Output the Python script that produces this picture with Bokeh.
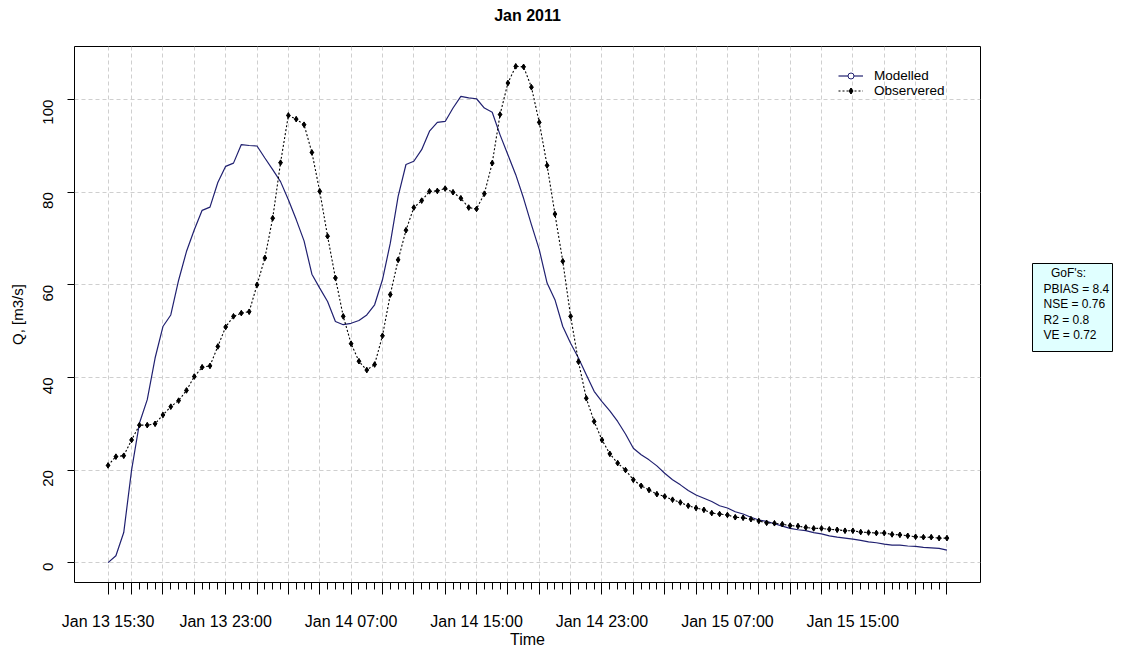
import math
import pandas as pd
from bokeh.plotting import figure
from bokeh.layouts import row
from bokeh.models import (FixedTicker, CustomJSTickFormatter, Range1d, Legend,
                          LegendItem, ColumnDataSource, LinearAxis)
from bokeh.core.properties import value
from bokeh.embed import file_html
from bokeh.resources import INLINE

# ---------------- data ----------------
start_time = "2011-01-13 15:30"
end_time = "2011-01-15 21:00"
times = pd.date_range(start_time, end_time, freq="30min")

modelled = [
    0.0, 1.5, 6.5, 20.0, 30.1, 35.2, 44.2, 51.0, 53.5, 61.0,
    67.2, 71.9, 76.1, 76.8, 82.1, 85.6, 86.3, 90.3, 90.1, 90.0,
    87.4, 84.9, 82.3, 78.4, 74.1, 69.5, 62.3, 59.3, 56.4, 52.1,
    51.4, 51.7, 52.3, 53.5, 55.7, 61.1, 69.0, 79.1, 86.0, 86.7,
    89.2, 93.2, 95.1, 95.3, 98.2, 100.7, 100.4, 100.2, 98.2, 97.3,
    92.4, 88.1, 83.8, 78.7, 73.0, 67.6, 60.4, 56.8, 51.0, 47.4,
    44.2, 40.6, 37.0, 34.8, 32.8, 30.5, 27.8, 24.7, 23.3, 22.2,
    20.9, 19.3, 17.9, 16.8, 15.6, 14.6, 13.9, 13.2, 12.3, 11.8,
    11.0, 10.5, 9.8, 9.2, 8.9, 8.4, 7.9, 7.4, 7.1, 6.9,
    6.5, 6.2, 5.8, 5.5, 5.3, 5.1, 4.8, 4.5, 4.3, 4.0,
    3.8, 3.8, 3.6, 3.5, 3.3, 3.2, 3.1, 2.7,
]
observed = [
    21.0, 22.9, 23.1, 26.5, 29.7, 29.7, 30.0, 31.9, 33.7, 35.0,
    37.2, 40.2, 42.2, 42.5, 46.7, 50.9, 53.2, 53.9, 54.2, 60.0,
    65.8, 74.4, 86.4, 96.6, 95.8, 94.6, 88.6, 80.2, 70.5, 61.5,
    53.2, 47.3, 43.5, 41.6, 42.8, 49.0, 57.9, 65.4, 71.8, 76.7,
    78.2, 80.2, 80.3, 80.8, 80.0, 78.7, 76.7, 76.4, 79.7, 86.3,
    96.8, 103.6, 107.2, 107.1, 102.7, 95.1, 85.8, 75.3, 65.1, 53.2,
    43.4, 35.5, 30.5, 26.5, 23.5, 21.5, 20.0, 17.9, 16.6, 15.7,
    14.8, 14.3, 13.6, 13.0, 12.3, 11.8, 11.4, 10.7, 10.5, 10.3,
    9.8, 9.7, 9.4, 9.0, 8.6, 8.5, 8.3, 8.0, 7.9, 7.6,
    7.4, 7.4, 7.2, 7.1, 6.9, 6.9, 6.6, 6.5, 6.4, 6.4,
    6.1, 6.0, 5.8, 5.6, 5.5, 5.5, 5.3, 5.3,
]
y_ticks = [0, 20, 40, 60, 80, 100]
series_labels = ["Modelled", "Observered"]
gof_title = "GoF's:"
gof_lines = ["PBIAS = 8.4", "NSE = 0.76", "R2 = 0.8", "VE = 0.72"]
title_text = "Jan 2011"

# ---------------- helpers ----------------
def to_ms(ts):
    return [(t - pd.Timestamp("1970-01-01")) // pd.Timedelta("1ms") for t in ts]

major_times = [times[0]] + list(pd.date_range("2011-01-13 17:00", end_time, freq="2h"))
major_ms = to_ms(major_times)
minor_ms = to_ms(times)

t0, t1 = minor_ms[0], minor_ms[-1]
xpad = 0.04 * (t1 - t0)
allv = modelled + observed
ymin, ymax = min(allv), max(allv)
ypad = 0.04 * (ymax - ymin)

FONT = "Liberation Sans"
NAVY = "#202070"

p = figure(width=982, height=650, x_axis_type="datetime", title=None,
           output_backend="svg", toolbar_location=None, frame_align=False,
           x_range=Range1d(t0 - xpad, t1 + xpad),
           y_range=Range1d(ymin - ypad, ymax + ypad),
           min_border_left=74, min_border_right=2,
           min_border_top=46, min_border_bottom=67)

p.background_fill_color = "white"
p.border_fill_color = "white"
p.outline_line_color = "black"
p.outline_line_width = 1

# title drawn as the label of an empty top axis
top_axis = LinearAxis(ticker=FixedTicker(ticks=[]), axis_label=title_text,
                      axis_line_color=None, major_tick_out=0, major_tick_in=0,
                      minor_tick_out=0, minor_tick_in=0, major_label_standoff=0,
                      axis_label_standoff=23, axis_label_text_font=FONT,
                      axis_label_text_font_size="16px",
                      axis_label_text_font_style="bold",
                      axis_label_text_color="black")
p.add_layout(top_axis, "above")

# x axis (bottom)
xax = p.below[0]
xt = FixedTicker(ticks=major_ms, minor_ticks=minor_ms)
xax.ticker = xt
xax.formatter = CustomJSTickFormatter(code="""
const d = new Date(tick);
const h = d.getUTCHours(), m = d.getUTCMinutes();
const show = (h == 15 && m == 30) || (m == 0 && (h == 7 || h == 15 || h == 23));
if (!show) { return ""; }
const months = ["Jan","Feb","Mar","Apr","May","Jun","Jul","Aug","Sep","Oct","Nov","Dec"];
const pad = (v) => (v < 10 ? "0" : "") + v;
return months[d.getUTCMonth()] + " " + d.getUTCDate() + " " + pad(h) + ":" + pad(m);
""")
xax.axis_label = "Time"
xax.major_tick_out = 12
xax.major_tick_in = 0
xax.minor_tick_out = 7
xax.minor_tick_in = 0
xax.major_label_standoff = 18
xax.axis_label_standoff = -2

# y axis
yax = p.left[0]
yax.ticker = FixedTicker(ticks=y_ticks, minor_ticks=[])
yax.axis_label = "Q, [m3/s]"
yax.major_tick_out = 7
yax.major_tick_in = 0
yax.minor_tick_out = 0
yax.minor_tick_in = 0
yax.major_label_orientation = math.pi / 2
yax.major_label_standoff = 19
yax.axis_label_standoff = 10

for ax in (xax, yax):
    ax.axis_line_color = None
    ax.major_tick_line_color = "black"
    ax.minor_tick_line_color = "black"
    ax.major_label_text_font = FONT
    ax.major_label_text_color = "black"
    ax.axis_label_text_font = FONT
    ax.axis_label_text_font_style = "normal"
    ax.axis_label_text_color = "black"
xax.major_label_text_font_size = "16px"
xax.axis_label_text_font_size = "16px"
yax.major_label_text_font_size = "15px"
yax.axis_label_text_font_size = "15px"

# grids
p.xgrid.ticker = xt
p.ygrid.ticker = FixedTicker(ticks=y_ticks)
for gr in (p.xgrid, p.ygrid):
    gr.grid_line_color = "#cfcfcf"
    gr.grid_line_dash = "4 3"
    gr.grid_line_width = 1

# data
src = ColumnDataSource(dict(t=list(times), mod=modelled, obs=observed))
r_mod = p.line("t", "mod", source=src, line_color=NAVY, line_width=1.2)
r_obs_line = p.line("t", "obs", source=src, line_color="black",
                    line_dash="2 2", line_width=1.1)
r_obs_pts = p.scatter("t", "obs", source=src, marker="diamond_cross", size=5.5,
                      line_color="black", fill_color="black", line_width=1)
# circle key for the legend only (hidden in the plot)
r_mod_key = p.scatter("t", "mod", source=src, marker="circle", size=6,
                      line_color=NAVY, fill_color="white", line_width=1,
                      visible=False)

legend = Legend(items=[
    LegendItem(label=series_labels[0], renderers=[r_mod, r_mod_key]),
    LegendItem(label=series_labels[1], renderers=[r_obs_line, r_obs_pts]),
], location=(764, 484), border_line_color=None, background_fill_alpha=0,
   padding=0, margin=0, spacing=0, glyph_width=25, glyph_height=15,
   label_height=15, label_standoff=11, label_text_font=FONT,
   label_text_font_size="13.5px", label_text_color="black")
p.add_layout(legend)

# ---------------- GoF box (separate small panel to the right) ----------------
BOX_W, BOX_H = 80, 88
g = figure(width=159, height=650, title=None, output_backend="svg",
           toolbar_location=None, x_axis_location=None, y_axis_location=None,
           frame_align=False,
           x_range=Range1d(0, BOX_W), y_range=Range1d(0, BOX_H),
           min_border_left=50, min_border_right=159 - 50 - BOX_W,
           min_border_top=263, min_border_bottom=650 - 263 - BOX_H)
g.grid.visible = False
g.background_fill_color = "#E0FFFF"
g.border_fill_color = "white"
g.outline_line_color = "black"
g.outline_line_width = 1

line_step = 15.5
g.text(x=[BOX_W * 0.45], y=[BOX_H - 9], text=[gof_title],
       text_align="center", text_baseline="middle", text_color="black",
       text_font=value(FONT), text_font_size="12px")
g.text(x=[11] * len(gof_lines),
       y=[BOX_H - 25 - i * line_step for i in range(len(gof_lines))],
       text=gof_lines, text_align="left", text_baseline="middle",
       text_color="black", text_font=value(FONT), text_font_size="12px")

layout = row(p, g)
open("out.html", "w").write(file_html(layout, INLINE))
